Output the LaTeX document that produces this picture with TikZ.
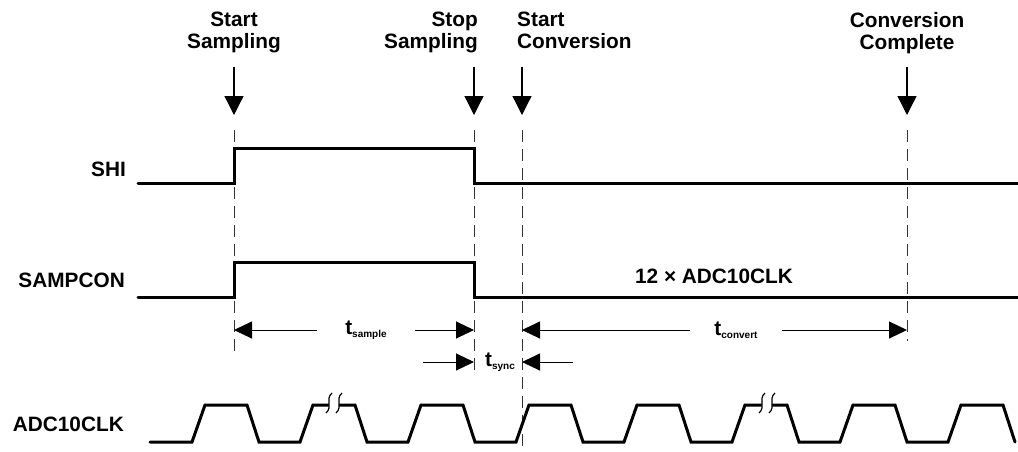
\documentclass[tikz,border=0pt]{standalone}
\usepackage{fontspec}
\setmainfont{Liberation Sans}
\usetikzlibrary{arrows.meta}
\newcommand{\tsub}[1]{t\raisebox{-3pt}{\fontsize{10}{10}\selectfont #1}}
\tikzset{
    wave/.style={line width=3pt, line cap=round},
    marker/.style={line width=1.3pt, -{Triangle[length=19pt, width=19pt]}},
    guide/.style={black!80, line width=1pt, dash pattern=on 12pt off 7pt},
    dim/.style={line width=1pt, -{Triangle[length=18pt, width=17pt]}},
    lbl/.style={font=\bfseries\fontsize{20.8}{22}\selectfont, inner sep=0pt},
}
\begin{document}
\begin{tikzpicture}[x=1pt, y=-1pt]
    \useasboundingbox (0,0) rectangle (1018,451);

    \node[lbl, align=center, anchor=north] (startsmp) at (234,12) {Start\\Sampling};
    \node[lbl, align=right, anchor=north east] (stopsmp) at (478,12) {Stop\\Sampling};
    \node[lbl, align=left, anchor=north west] (startcnv) at (517,12) {Start\\Conversion};
    \node[lbl, align=center, anchor=north] (cnvdone) at (907,12) {Conversion\\Complete};

    \foreach \x/\y in {234/357, 474/373, 522/451, 907/341} {
        \draw[marker] (\x,67) -- (\x,115);
        \draw[guide] (\x,130) -- (\x,\y);
    }

    \node[lbl, anchor=base east] (shi) at (126,176) {SHI};
    \node[lbl, anchor=base east] (sampcon) at (125,287) {SAMPCON};
    \node[lbl, anchor=base east] (adcclk) at (124,431) {ADC10CLK};

    \draw[wave] (138,183) -- (234,183) -- (234,148) -- (474,148) -- (474,183) -- (1018,183);
    \draw[wave] (138,297) -- (234,297) -- (234,262) -- (474,262) -- (474,297) -- (1018,297);
    \node[lbl] (count) at (714,276) {12 × ADC10CLK};

    \draw[wave] (150,442) -- (192,442)
        \foreach \k in {0,...,6} { -- ++(13,-37) -- ++(42,0) -- ++(12,37) -- ++(41,0) }
        -- ++(13,-37) -- ++(42,0) -- ++(12,37);
    \foreach \bx in {334,767} {
        \fill[white] (\bx-2,393) .. controls (\bx-9,399) and (\bx-1,407) .. (\bx-8,413)
            -- (\bx+2,413) .. controls (\bx+9,407) and (\bx+1,399) .. (\bx+8,393) -- cycle;
        \draw[line width=1.2pt] (\bx-2,393) .. controls (\bx-9,399) and (\bx-1,407) .. (\bx-8,413);
        \draw[line width=1.2pt] (\bx+8,393) .. controls (\bx+1,399) and (\bx+9,407) .. (\bx+2,413);
    }

    \node[lbl, inner xsep=28pt] (tsmp) at (366,330) {\tsub{sample}};
    \draw[dim] (tsmp.west) -- (234,330);
    \draw[dim] (tsmp.east) -- (474,330);
    \node[lbl, inner xsep=24pt] (tcnv) at (736,330) {\tsub{convert}};
    \draw[dim] (tcnv.west) -- (522,330);
    \draw[dim] (tcnv.east) -- (907,330);
    \node[lbl] (tsyn) at (500,362) {\tsub{sync}};
    \draw[dim] (423,362) -- (474,362);
    \draw[dim] (573,362) -- (522,362);
\end{tikzpicture}
\end{document}
